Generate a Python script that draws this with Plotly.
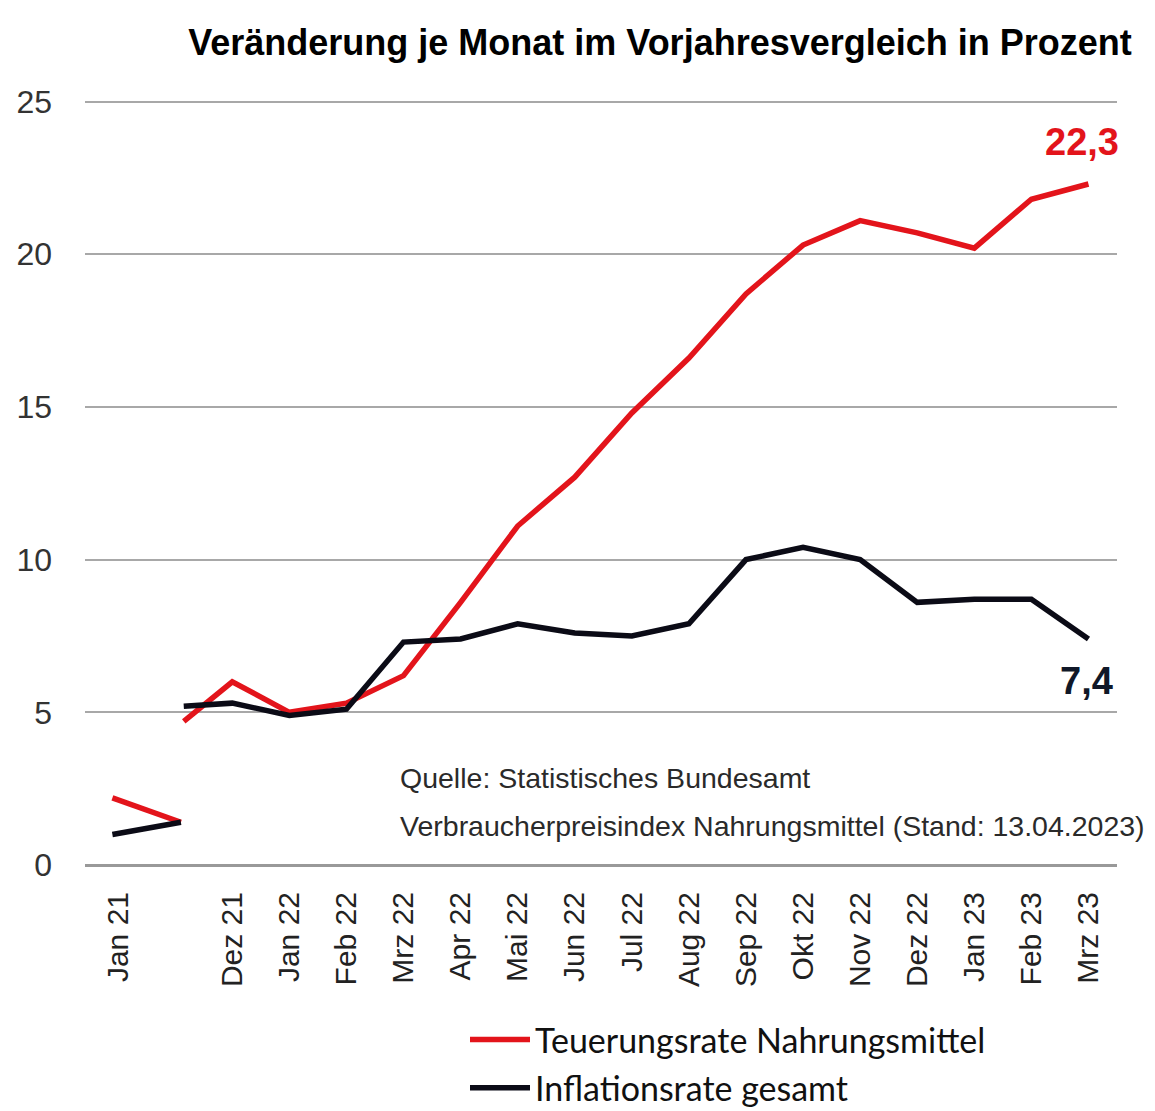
import plotly.graph_objects as go

# Category labels (position 1 is the axis break with no label)
tick_labels = ["Jan 21", "", "Dez 21", "Jan 22", "Feb 22", "Mrz 22", "Apr 22", "Mai 22",
               "Jun 22", "Jul 22", "Aug 22", "Sep 22", "Okt 22", "Nov 22", "Dez 22",
               "Jan 23", "Feb 23", "Mrz 23"]
tick_pos = list(range(len(tick_labels)))

# Segment before the axis break
pre_x = [-0.1, 1.1]
food_pre = [2.2, 1.4]
infl_pre = [1.0, 1.4]

# Segment after the axis break
post_x = [1.15, 2, 3, 4, 5, 6, 7, 8, 9, 10, 11, 12, 13, 14, 15, 16, 17]
food_post = [4.7, 6.0, 5.0, 5.3, 6.2, 8.6, 11.1, 12.7, 14.8, 16.6, 18.7, 20.3, 21.1, 20.7, 20.2, 21.8, 22.3]
infl_post = [5.2, 5.3, 4.9, 5.1, 7.3, 7.4, 7.9, 7.6, 7.5, 7.9, 10.0, 10.4, 10.0, 8.6, 8.7, 8.7, 7.4]

RED = "#e3141b"
BLACK = "#0b0b16"

# page body has an 8px margin; figure coordinates are page coordinates minus 8
W, H = 1147, 1103
L, R, T, B = 77, 38, 92, 246
PW, PH = W - L - R, H - T - B

fig = go.Figure()
fig.add_trace(go.Scatter(x=post_x, y=food_post, mode="lines", name="Teuerungsrate Nahrungsmittel",
                         legendgroup="a", line=dict(color=RED, width=5.5)))
fig.add_trace(go.Scatter(x=post_x, y=infl_post, mode="lines", name="Inflationsrate gesamt",
                         legendgroup="b", line=dict(color=BLACK, width=5.5)))
fig.add_trace(go.Scatter(x=pre_x, y=food_pre, mode="lines", showlegend=False, legendgroup="a",
                         line=dict(color=RED, width=5.5)))
fig.add_trace(go.Scatter(x=pre_x, y=infl_pre, mode="lines", showlegend=False, legendgroup="b",
                         line=dict(color=BLACK, width=5.5)))

fig.add_annotation(x=post_x[-1], y=food_post[-1], text="<b>22,3</b>", showarrow=False,
                   yshift=42, xshift=-6, font=dict(family="Liberation Sans", size=38, color=RED))
fig.add_annotation(x=post_x[-1], y=infl_post[-1], text="<b>7,4</b>", showarrow=False,
                   yshift=-42, xshift=-2, font=dict(family="Liberation Sans", size=38, color="#101828"))

fig.add_annotation(xref="paper", yref="paper", x=(398 - 8 - L) / PW, y=(857 - 770) / PH,
                   xanchor="left", yanchor="middle", showarrow=False,
                   text="Quelle: Statistisches Bundesamt",
                   font=dict(family="Liberation Sans", size=28.5, color="#2a2a2a"))
fig.add_annotation(xref="paper", yref="paper", x=(398 - 8 - L) / PW, y=(857 - 818) / PH,
                   xanchor="left", yanchor="middle", showarrow=False,
                   text="Verbraucherpreisindex Nahrungsmittel (Stand: 13.04.2023)",
                   font=dict(family="Liberation Sans", size=28.5, color="#2a2a2a"))

fig.update_layout(
    width=W, height=H,
    margin=dict(l=L, r=R, t=T, b=B, autoexpand=False),
    paper_bgcolor="white", plot_bgcolor="white",
    title=dict(text="<b>Veränderung je Monat im Vorjahresvergleich in Prozent</b>",
               x=652 / W, xanchor="center", y=1 - 34 / H, yanchor="middle",
               font=dict(family="Liberation Sans", size=36, color="black")),
    xaxis=dict(range=[-0.58, 17.5], tickmode="array", tickvals=tick_pos, ticktext=tick_labels,
               tickangle=-90, showgrid=False, zeroline=False, showline=False, automargin=False,
               ticks="", ticklabelstandoff=20,
               tickfont=dict(family="Liberation Sans", size=30, color="#222")),
    yaxis=dict(range=[0, 25.05], tickvals=[0, 5, 10, 15, 20, 25], showgrid=True, automargin=False,
               gridcolor="#a8a8a8", gridwidth=2, zeroline=True, zerolinecolor="#999", zerolinewidth=3,
               showline=False, ticks="", ticklabelstandoff=32,
               tickfont=dict(family="Liberation Sans", size=32, color="#333")),
    showlegend=True,
    legend=dict(orientation="v", x=(465 - 8 - L) / PW, xanchor="left", y=-(1003 - 857) / PH,
                yanchor="top", font=dict(family="Lato", size=34, color="#111"),
                itemwidth=60, tracegroupgap=1, bgcolor="rgba(0,0,0,0)"),
)

fig.write_html("out.html")
